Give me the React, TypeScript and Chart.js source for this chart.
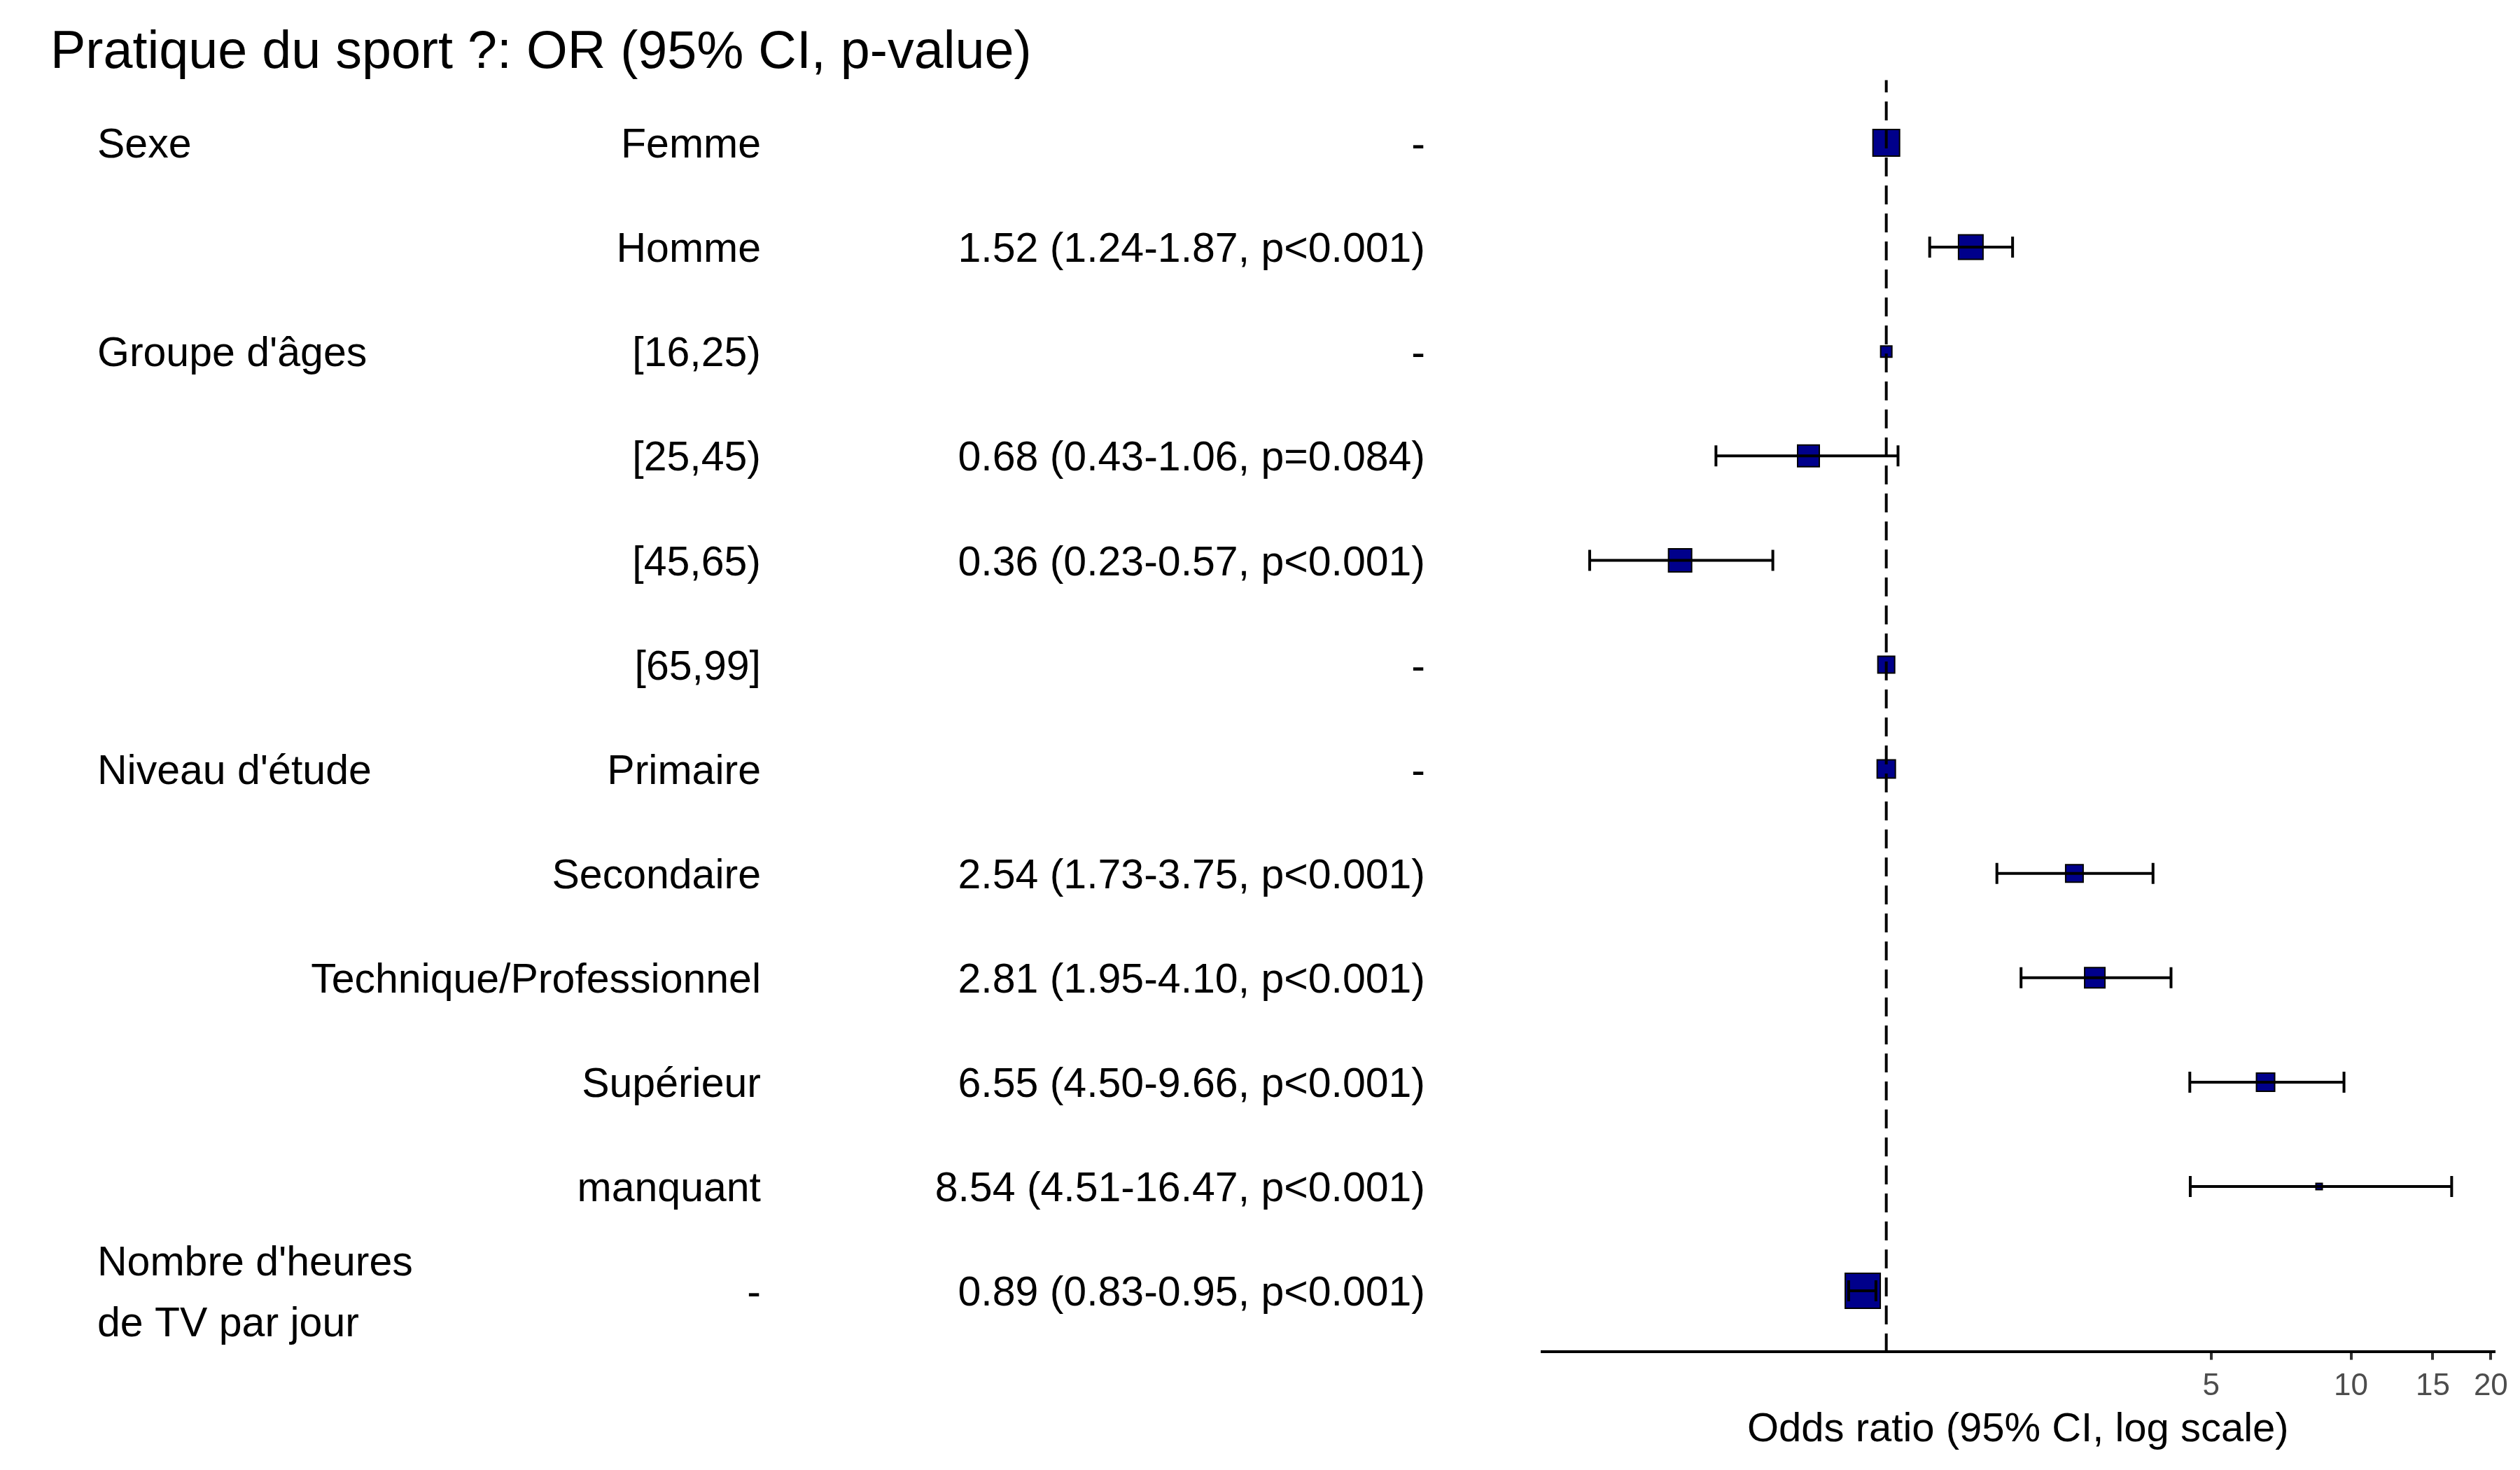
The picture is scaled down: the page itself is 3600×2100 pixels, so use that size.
import React, { useEffect, useRef } from "react";
import { Chart, registerables } from "chart.js";

Chart.register(...registerables);

// ---------- data ----------
const chartTitle = "Pratique du sport ?: OR (95% CI, p-value)";
const variables = [
  "Sexe", "", "Groupe d'âges", "", "", "", "Niveau d'étude", "", "", "", "",
  "Nombre d'heures\nde TV par jour",
];
const levels = [
  "Femme", "Homme", "[16,25)", "[25,45)", "[45,65)", "[65,99]", "Primaire",
  "Secondaire", "Technique/Professionnel", "Supérieur", "manquant", "-",
];
const oddsRatio = [1, 1.52, 1, 0.68, 0.36, 1, 1, 2.54, 2.81, 6.55, 8.54, 0.89];
const ciLower: (number | null)[] = [null, 1.24, null, 0.43, 0.23, null, null, 1.73, 1.95, 4.5, 4.51, 0.83];
const ciUpper: (number | null)[] = [null, 1.87, null, 1.06, 0.57, null, null, 3.75, 4.1, 9.66, 16.47, 0.95];
const pValues: (string | null)[] = [
  null, "p<0.001", null, "p=0.084", "p<0.001", null, null, "p<0.001", "p<0.001",
  "p<0.001", "p<0.001", "p<0.001",
];
const xTicks = [5, 10, 15, 20];
const axisTitle = "Odds ratio (95% CI, log scale)";

// ---------- style ----------
const markerSide = [40, 37, 18, 33, 35, 26, 28, 27, 31, 28, 11, 52];
const FONT = '"Liberation Sans", Arial, Helvetica, sans-serif';
const W = 3600;
const H = 2100;
const AXIS_Y = 1930.6;

function orText(i: number): string {
  const lo = ciLower[i];
  const hi = ciUpper[i];
  if (lo == null || hi == null) return "-";
  return `${oddsRatio[i].toFixed(2)} (${lo.toFixed(2)}-${hi.toFixed(2)}, ${pValues[i]})`;
}

const forestPlugin = {
  id: "forestPlugin",
  afterDatasetsDraw(chart: any) {
    const { ctx, chartArea, scales } = chart;
    const x = scales.x;
    const y = scales.y;
    ctx.save();
    ctx.strokeStyle = "#000000";
    ctx.lineWidth = 4;
    ctx.lineCap = "butt";
    for (let i = 0; i < oddsRatio.length; i++) {
      const lo = ciLower[i];
      const hi = ciUpper[i];
      if (lo == null || hi == null) continue;
      const x1 = x.getPixelForValue(lo);
      const x2 = x.getPixelForValue(hi);
      const yy = y.getPixelForValue(i);
      ctx.beginPath();
      ctx.moveTo(x1, yy);
      ctx.lineTo(x2, yy);
      ctx.moveTo(x1, yy - 15);
      ctx.lineTo(x1, yy + 15);
      ctx.moveTo(x2, yy - 15);
      ctx.lineTo(x2, yy + 15);
      ctx.stroke();
    }
    const xr = x.getPixelForValue(1);
    ctx.setLineDash([27, 13]);
    ctx.lineDashOffset = 9.6;
    ctx.beginPath();
    ctx.moveTo(xr, chartArea.top);
    ctx.lineTo(xr, chartArea.bottom);
    ctx.stroke();
    ctx.restore();
  },
  afterDraw(chart: any) {
    const { ctx, scales } = chart;
    const y = scales.y;
    ctx.save();
    ctx.fillStyle = "#000000";
    ctx.textBaseline = "alphabetic";
    ctx.font = `75.5px ${FONT}`;
    ctx.textAlign = "left";
    ctx.fillText(chartTitle, 72, 97);

    ctx.font = `59px ${FONT}`;
    for (let i = 0; i < levels.length; i++) {
      const yy = y.getPixelForValue(i) + 21.2;
      const lines = variables[i] ? variables[i].split("\n") : [];
      ctx.textAlign = "left";
      lines.forEach((ln, k) => {
        const off = (k - (lines.length - 1) / 2) * 87;
        ctx.fillText(ln, 139, yy + off);
      });
      ctx.textAlign = "right";
      ctx.fillText(levels[i], 1087, yy);
      ctx.fillText(orText(i), 2036, yy);
    }
    ctx.restore();
  },
};

export default function App() {
  const canvasRef = useRef<HTMLCanvasElement | null>(null);

  useEffect(() => {
    const canvas = canvasRef.current;
    if (!canvas) return;
    const chart = new Chart(canvas, {
      type: "scatter",
      data: {
        datasets: [
          {
            data: oddsRatio.map((v, i) => ({ x: v, y: i })),
            pointStyle: "rect",
            pointRadius: markerSide.map((s) => (s - 2) / Math.SQRT2),
            pointHoverRadius: markerSide.map((s) => (s - 2) / Math.SQRT2),
            backgroundColor: "#00008B",
            borderColor: "#000000",
            borderWidth: 2,
            pointBorderWidth: 2,
            showLine: false,
          } as any,
        ],
      },
      options: {
        animation: false,
        responsive: false,
        maintainAspectRatio: false,
        events: [],
        layout: { padding: { left: 2203, right: 31, top: 114.5, bottom: 0 } },
        plugins: {
          legend: { display: false },
          tooltip: { enabled: false },
          title: { display: false },
        },
        scales: {
          x: {
            type: "logarithmic",
            position: "bottom",
            min: 0.1817,
            max: 20.3,
            afterBuildTicks: (s: any) => {
              s.ticks = xTicks.map((v) => ({ value: v }));
            },
            afterFit: (s: any) => {
              s.height = H - AXIS_Y;
            },
            ticks: {
              color: "#4D4D4D",
              font: { size: 44, family: FONT },
              padding: 12,
              maxRotation: 0,
              autoSkip: false,
              callback: (v: any) => String(v),
            },
            grid: {
              display: true,
              drawOnChartArea: false,
              drawTicks: true,
              tickLength: 12,
              color: "#333333",
              lineWidth: 4,
            },
            border: { display: true, color: "#000000", width: 4 },
            title: {
              display: true,
              text: axisTitle,
              color: "#000000",
              font: { size: 58, family: FONT },
              padding: { top: 0, bottom: 22 },
            },
          } as any,
          y: {
            type: "linear",
            display: false,
            min: -0.6,
            max: 11.58,
            reverse: true,
          },
        },
      },
      plugins: [forestPlugin],
    });
    return () => chart.destroy();
  }, []);

  return (
    <div style={{ position: "fixed", left: 0, top: 0, width: W, height: H, background: "#ffffff" }}>
      <canvas ref={canvasRef} width={W} height={H} style={{ width: W, height: H, display: "block" }} />
    </div>
  );
}
